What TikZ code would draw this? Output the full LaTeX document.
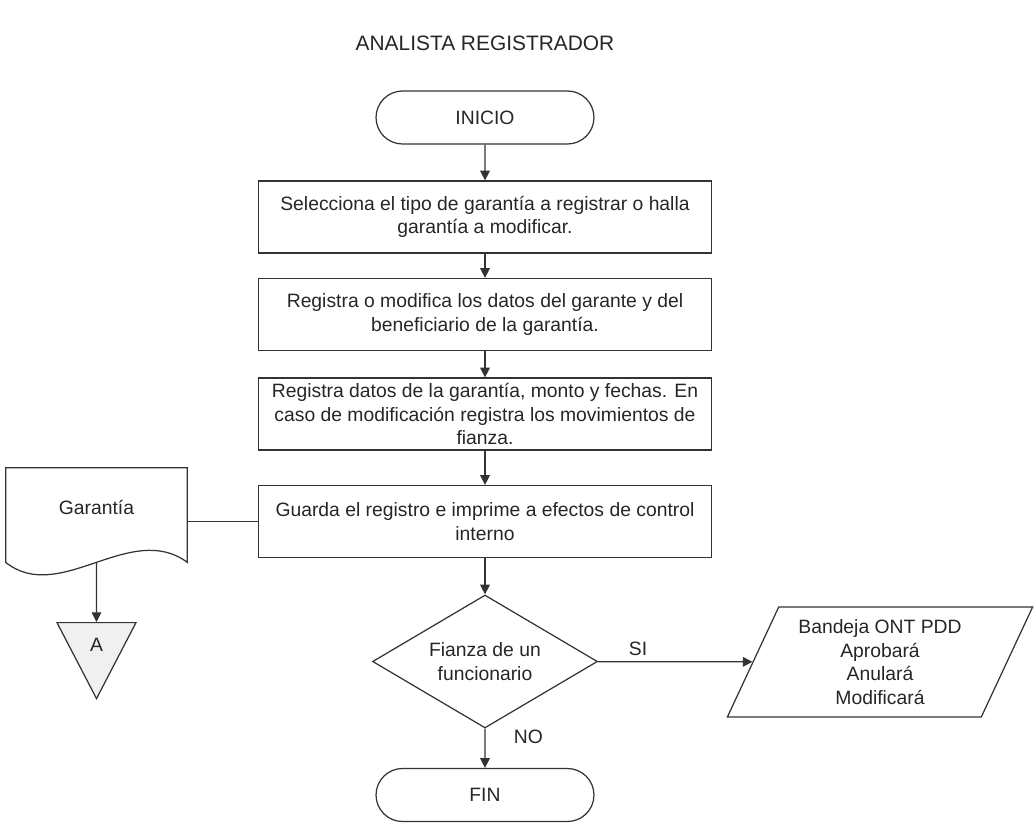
\documentclass[tikz,border=0pt]{standalone}
\usepackage{fontspec}
\setmainfont{Liberation Sans}
\usetikzlibrary{shapes.geometric,shapes.misc,arrows.meta}
\colorlet{linea}{black!80}
\colorlet{texto}{black!85}
\colorlet{conector}{black!6}
\tikzset{
  base/.style={draw=linea,line width=0.7pt,text=texto,align=center,inner sep=0pt,
    font=\fontsize{11}{13.4}\selectfont},
  terminal/.style={base,rounded rectangle,minimum width=4.36cm,minimum height=1.06cm},
  proceso/.style={base,rectangle,minimum width=9.06cm,minimum height=1.44cm},
  decision/.style={base,diamond,aspect=1.7,minimum width=4.5cm,minimum height=2.66cm},
  salida/.style={base,trapezium,trapezium left angle=64,trapezium right angle=116,
    trapezium stretches,minimum width=6.12cm,minimum height=2.2cm},
  documento/.style={minimum width=3.62cm,minimum height=1.88cm,inner sep=0pt},
  enlace/.style={base,fill=conector,isosceles triangle,shape border rotate=270,
    isosceles triangle stretches,minimum width=1.58cm,minimum height=1.52cm},
  etiqueta/.style={text=texto,font=\fontsize{11}{13.4}\selectfont,align=center},
  flujo/.style={-{Triangle[length=5.5pt,width=5.5pt]},draw=linea,line width=0.7pt},
  linea/.style={draw=linea,line width=0.7pt},
}
\begin{document}
\begin{tikzpicture}[x=0.02cm,y=-0.02cm]
    \useasboundingbox (0,0) rectangle (1036,825);
    \node [etiqueta,font=\fontsize{11.9}{14}\selectfont] (titulo) at (485,43) {ANALISTA REGISTRADOR};

    \node [terminal] (inicio) at (485,117.5) {INICIO};
    \node [proceso] (p1) at (485,217)
      {Selecciona el tipo de garantía a registrar o halla\\garantía a modificar.};
    \node [proceso] (p2) at (485,314.5)
      {Registra o modifica los datos del garante y del\\beneficiario de la garantía.};
    \node [proceso] (p3) at (485,414)
      {Registra datos de la garantía, monto y fechas. En\\caso de modificación registra los movimientos de\\fianza.};
    \node [proceso] (p4) at (485,521.5)
      {Guarda el registro e imprime a efectos de control\\interno};
    \node [decision] (dec) at (485,661.5) {Fianza de un\\funcionario};
    \node [salida] (bandeja) at (880,662)
      {Bandeja ONT PDD\\Aprobará\\Anulará\\Modificará};
    \node [terminal] (fin) at (485,795) {FIN};

    \node [documento] (doc) at (96.5,515) {};
    \draw [linea] (doc.south east) .. controls +(-57,-42) and +(54,43) .. (doc.south west)
      -- (doc.north west) -- (doc.north east) -- cycle;
    \node [etiqueta] (garantia) at ([yshift=0.16cm]doc.center) {Garantía};
    \node [enlace,anchor=north] (conA) at (96.5,622) {A};

    \foreach \a/\b in {inicio/p1,p1/p2,p2/p3,p3/p4,p4/dec}
      \draw [flujo] (\a) -- (\b);
    \draw [flujo] (dec) -- node [etiqueta,pos=0.26,above=0pt] {SI} (bandeja);
    \draw [flujo] (dec) -- node [etiqueta,pos=0.2,right=0.45cm] {NO} (fin);
    \draw [linea] (p4.west) -- (p4.west -| doc.east);
    \draw [flujo] (doc.south) -- (conA);
\end{tikzpicture}
\end{document}
